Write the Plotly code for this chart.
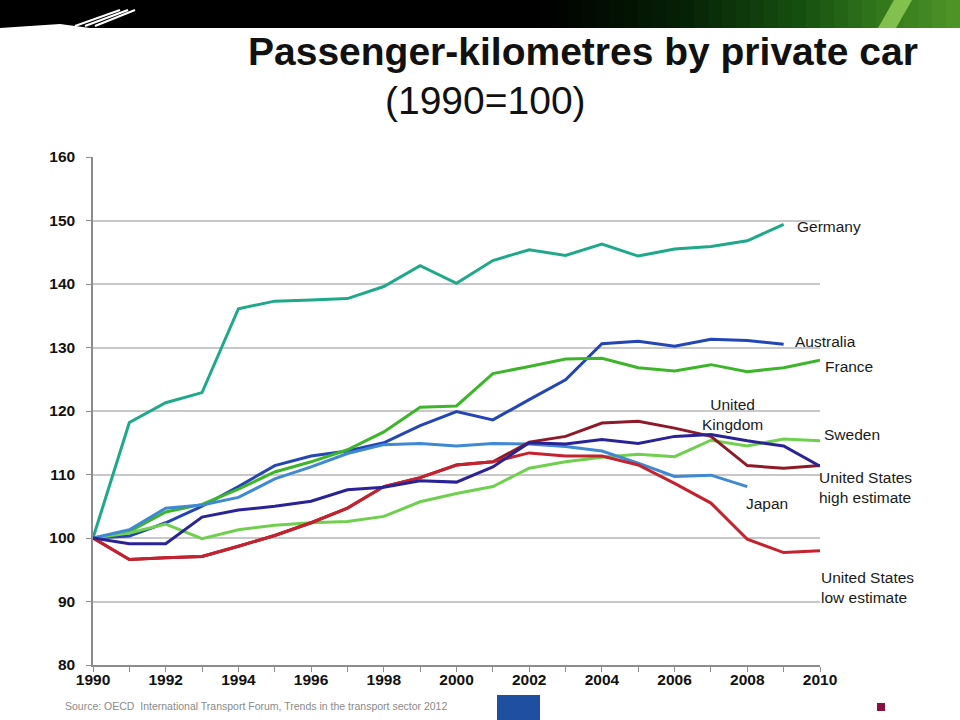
import plotly.graph_objects as go

years = list(range(1990, 2011))

germany = [100, 118.2, 121.3, 122.9, 136.1, 137.3, 137.5, 137.7, 139.6, 142.9, 140.1,
           143.7, 145.4, 144.5, 146.3, 144.4, 145.5, 145.9, 146.8, 149.4]
australia = [100, 100.3, 102.4, 105.0, 108.1, 111.4, 112.9, 113.7, 115.0, 117.7, 119.9,
             118.6, 121.8, 124.9, 130.6, 131.0, 130.2, 131.3, 131.1, 130.5]
france = [100, 101.0, 104.1, 105.3, 107.7, 110.4, 112.0, 113.9, 116.7, 120.6, 120.8,
          125.9, 127.0, 128.2, 128.3, 126.8, 126.3, 127.3, 126.2, 126.8, 128.0]
uk = [100, 99.1, 99.1, 103.3, 104.4, 105.0, 105.8, 107.6, 108.0, 109.0, 108.8,
      111.2, 115.0, 114.8, 115.5, 114.9, 116.0, 116.3, 115.3, 114.5, 111.3]
sweden = [100, 100.8, 102.2, 99.9, 101.3, 102.0, 102.4, 102.6, 103.4, 105.7, 107.0,
          108.1, 111.0, 112.0, 112.7, 113.2, 112.8, 115.4, 114.5, 115.6, 115.3]
us_high = [100, 96.6, 96.9, 97.1, 98.7, 100.4, 102.4, 104.7, 108.1, 109.5, 111.5,
           112.0, 115.1, 116.0, 118.1, 118.4, 117.3, 116.0, 111.4, 111.0, 111.4]
japan = [100, 101.3, 104.7, 105.2, 106.4, 109.3, 111.2, 113.3, 114.7, 114.9, 114.5,
         114.9, 114.8, 114.4, 113.7, 111.8, 109.7, 109.9, 108.1]
us_low = [100, 96.6, 96.9, 97.1, 98.7, 100.4, 102.4, 104.7, 108.1, 109.5, 111.5,
          112.0, 113.4, 112.9, 112.9, 111.5, 108.6, 105.5, 99.8, 97.7, 98.0]

series = [
    ("Germany", germany, "#1fa88a"),
    ("Australia", australia, "#2346b4"),
    ("France", france, "#3db52a"),
    ("Sweden", sweden, "#6fd04e"),
    ("Japan", japan, "#3f88d2"),
    ("United States high estimate", us_high, "#8c1a28"),
    ("United States low estimate", us_low, "#c4222e"),
    ("United Kingdom", uk, "#2a2396"),
]

label_text = ["Germany", "Australia", "France", "United<br>Kingdom", "Sweden",
              "United States<br>high estimate", "Japan", "United States<br>low estimate"]
label_x = [2009.15, 2009.1, 2010.0, 2007.6, 2010.0, 2010.0, 2008.55, 2010.0]
label_shift = [6, 6, 3, 0, 2, -3, 0, -1]
label_y = [149.0, 130.9, 127.0, 119.5, 116.3, 108.0, 105.5, 92.2]
label_anchor = ["left", "left", "left", "center", "left", "left", "center", "left"]

y_ticks = [80, 90, 100, 110, 120, 130, 140, 150, 160]
x_ticks = list(range(1990, 2011, 2))

fig = go.Figure()
for name, vals, col in series:
    fig.add_trace(go.Scatter(
        x=years[:len(vals)], y=vals, mode="lines", name=name,
        line=dict(color=col, width=3), hoverinfo="skip"))

for t, xx, yy, an, sh in zip(label_text, label_x, label_y, label_anchor, label_shift):
    fig.add_annotation(x=xx, y=yy, text=t, showarrow=False, xanchor=an, xshift=sh,
                       align="left" if an == "left" else "center",
                       font=dict(family="Liberation Sans, Arial", size=15.5, color="#1a1a1a"))

# header band (decoration)
L, R, T, B = 93, 820, 157, 665
def px(x):
    return (x - L) / (R - L)
def py(y):
    return (B - y) / (B - T)

shapes = []
shapes.append(dict(type="rect", xref="paper", yref="paper", x0=px(0), x1=px(960),
                   y0=py(28), y1=py(0), fillcolor="#000000", line=dict(width=0), layer="below"))
steps = 30
stops = [(540, (0, 0, 0)), (680, (6, 32, 6)), (800, (22, 80, 16)), (880, (50, 120, 28)), (960, (80, 150, 40))]
def col_at(x):
    for (x0, c0), (x1, c1) in zip(stops[:-1], stops[1:]):
        if x0 <= x <= x1:
            f = (x - x0) / (x1 - x0)
            return "rgb(%d,%d,%d)" % tuple(int(a + (b - a) * f) for a, b in zip(c0, c1))
    return "rgb(0,0,0)"
w = (960 - 540) / steps
for i in range(steps):
    x0 = 540 + i * w
    shapes.append(dict(type="rect", xref="paper", yref="paper", x0=px(x0), x1=px(x0 + w + 1),
                       y0=py(28), y1=py(0), fillcolor=col_at(x0 + w / 2), line=dict(width=0), layer="below"))
shapes.append(dict(type="path", xref="paper", yref="paper",
                   path="M %f %f L %f %f L %f %f L %f %f Z" % (px(878), py(28), px(896), py(28), px(912), py(0), px(894), py(0)),
                   fillcolor="rgba(150,210,90,0.8)", line=dict(width=0), layer="below"))
for a, b in [(95, 120), (105, 128), (115, 135)]:
    shapes.append(dict(type="line", xref="paper", yref="paper", x0=px(a - 20), y0=py(26), x1=px(b), y1=py(10),
                       line=dict(color="white", width=2), layer="below"))
shapes.append(dict(type="path", xref="paper", yref="paper",
                   path="M %f %f L %f %f L %f %f L %f %f Z" % (px(0), py(28), px(60), py(24), px(90), py(28), px(0), py(30)),
                   fillcolor="white", line=dict(width=0), layer="below"))
shapes.append(dict(type="rect", xref="paper", yref="paper", x0=px(497), x1=px(540),
                   y0=py(720), y1=py(695), fillcolor="#1f4fa0", line=dict(width=0), layer="below"))
shapes.append(dict(type="rect", xref="paper", yref="paper", x0=px(877), x1=px(885),
                   y0=py(711), y1=py(703), fillcolor="#8a1040", line=dict(width=0), layer="below"))

fig.update_layout(shapes=shapes)

fig.add_annotation(xref="paper", yref="paper", x=px(583), y=py(52), text="<b>Passenger-kilometres by private car</b>",
                   showarrow=False, xanchor="center", yanchor="middle",
                   font=dict(family="Liberation Sans, Arial", size=39, color="#111111"))
fig.add_annotation(xref="paper", yref="paper", x=px(485), y=py(101), text="(1990=100)",
                   showarrow=False, xanchor="center", yanchor="middle",
                   font=dict(family="Liberation Sans, Arial", size=39, color="#111111"))
fig.add_annotation(xref="paper", yref="paper", x=px(63), y=py(706), text="Source: OECD  International Transport Forum, Trends in the transport sector 2012",
                   showarrow=False, xanchor="left", yanchor="middle",
                   font=dict(family="Liberation Sans, Arial", size=10.5, color="#8a8a8a"))

tickfont = dict(family="Liberation Sans, Arial", size=15.5, color="#111111", weight="bold")
fig.update_layout(
    width=960, height=720,
    margin=dict(l=L, r=960 - R, t=T, b=720 - B, pad=0),
    paper_bgcolor="white", plot_bgcolor="white",
    showlegend=False,
    xaxis=dict(range=[1990, 2010], tickvals=x_ticks, ticktext=[str(v) for v in x_ticks],
               showgrid=False, zeroline=False, showline=True, linecolor="#8c8c8c", linewidth=1.5,
               ticks="outside", ticklen=5, tickcolor="#8c8c8c",
               minor=dict(ticks="outside", ticklen=5, tickcolor="#8c8c8c", dtick=1, tick0=1990, showgrid=False),
               tickfont=tickfont, ticklabelstandoff=-5,
               fixedrange=True),
    yaxis=dict(range=[80, 160], tickvals=y_ticks, ticktext=[str(v) for v in y_ticks],
               showgrid=True, gridcolor="#c8c8c8", gridwidth=1.5, zeroline=False,
               showline=True, linecolor="#8c8c8c", linewidth=1.5,
               ticks="outside", ticklen=5, tickcolor="#8c8c8c",
               tickfont=tickfont, ticklabelstandoff=8,
               fixedrange=True),
)

fig.write_html("out.html")
